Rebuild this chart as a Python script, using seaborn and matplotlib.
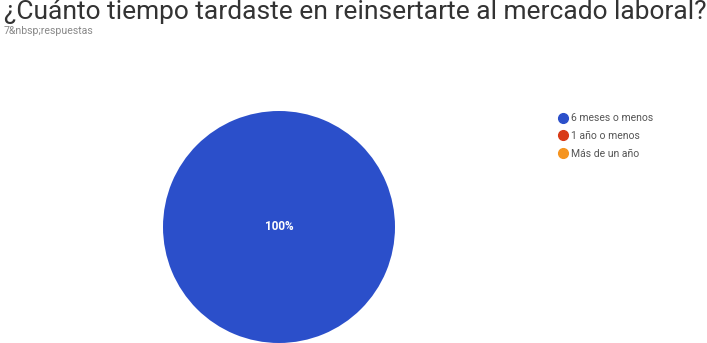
import matplotlib
matplotlib.use("Agg")
import matplotlib.pyplot as plt
from matplotlib.lines import Line2D
import seaborn as sns

# Survey answers
categories = ["6 meses o menos", "1 año o menos", "Más de un año"]
responses = [7, 0, 0]
colors = ["#2b4fca", "#d83a17", "#f59420"]
title = "¿Cuánto tiempo tardaste en reinsertarte al mercado laboral?"
subtitle = "7&nbsp;respuestas"

sns.set_theme(style="white")
plt.rcParams["font.family"] = ["Roboto", "DejaVu Sans"]

fig = plt.figure(figsize=(7.07, 3.43), dpi=100)
fig.patch.set_facecolor("white")

W, H = 707, 343
cx, cy, r = 279, 227, 116
ax = fig.add_axes([(cx - r) / W, (H - cy - r) / H, 2 * r / W, 2 * r / H])

total = sum(responses)
wedges, _ = ax.pie(responses, colors=colors, startangle=90, counterclock=False,
                   radius=1.0, wedgeprops=dict(linewidth=0))
ax.set_xlim(-1, 1)
ax.set_ylim(-1, 1)
ax.set_aspect("equal")
ax.axis("off")

# Percentage labels on non-empty slices
for val in responses:
    if val > 0:
        pct = val / total * 100
        if pct == 100:
            ax.text(0, 0, f"{pct:.0f}%", ha="center", va="center",
                    color="white", fontsize=8.5, fontweight="bold")

fig.text(4 / W, 1 - 12 / H, title, ha="left", va="center",
         fontsize=19, color="#333333")
fig.text(4 / W, 1 - 31 / H, subtitle, ha="left", va="center",
         fontsize=7.6, color="#888888")

handles = [Line2D([0], [0], marker="o", linestyle="", markersize=7,
                  markerfacecolor=c, markeredgecolor=c) for c in colors]
leg = fig.legend(handles, categories, loc="upper left",
                 bbox_to_anchor=(553 / W, 1 - 109 / H), frameon=False,
                 fontsize=7.5, handletextpad=0.1, labelspacing=0.75,
                 borderaxespad=0, handlelength=1.2)
for t in leg.get_texts():
    t.set_color("#555555")

fig.savefig("out.png", dpi=100, facecolor="white")
